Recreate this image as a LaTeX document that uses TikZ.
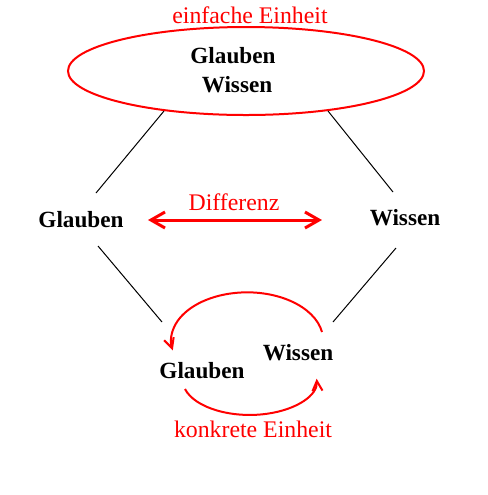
\documentclass[tikz,border=0pt]{standalone}
\usepackage{fontspec}
\setmainfont{Liberation Serif}
\usetikzlibrary{arrows.meta,shapes.geometric}
\tikzset{
  term/.style={font=\bfseries\fontsize{11.6}{14}\selectfont,inner sep=0pt,anchor=base},
  redtext/.style={font=\fontsize{11.9}{14}\selectfont,text=red,inner sep=0pt,anchor=base},
  redline/.style={draw=red,line width=1pt},
  barb/.style={-{Straight Barb[length=5pt,width=5pt]}}
}
\begin{document}
\begin{tikzpicture}[x=0.5pt,y=-0.5pt]
\useasboundingbox (0,0) rectangle (488,495);
% einfache Einheit
\node[redtext] (ee) at (250,23) {einfache Einheit};
\node[draw=red,line width=1pt,ellipse,minimum width=178pt,minimum height=44pt,inner sep=0pt] (ell) at (246,71) {};
\node[term] (g0) at (233,63) {Glauben};
\node[term] (w0) at (237,92) {Wissen};
% Differenz
\node[term] (g1) at (81,227) {Glauben};
\node[term] (w1) at (405,225) {Wissen};
\node[redtext] (dif) at (234,210) {Differenz};
\coordinate (dl) at (148,220);
\coordinate (dr) at (322,220);
\draw[line width=1.5pt,red,{Straight Barb[length=7pt,width=8pt]}-{Straight Barb[length=7pt,width=8pt]}] (dl) -- (dr);
% konkrete Einheit
\node[term] (g2) at (202,378) {Glauben};
\node[term] (w2) at (298,360) {Wissen};
\node[redtext] (ke) at (253,437) {konkrete Einheit};
% Verbindungen
\coordinate (a1) at (96,193);
\coordinate (a2) at (393,192);
\coordinate (b1) at (98,246);
\coordinate (b2) at (396,248);
\coordinate (c1) at (162,322);
\coordinate (c2) at (333,322);
\draw[black,line width=0.5pt] (ell.206) -- (a1);
\draw[black,line width=0.5pt] (ell.334) -- (a2);
\draw[black,line width=0.5pt] (b1) -- (c1);
\draw[black,line width=0.5pt] (b2) -- (c2);
% Kreislauf
\coordinate (k1) at (322,332);
\coordinate (k2) at (185,389);
\draw[redline,barb] (k1) arc[start angle=-10,end angle=-192,x radius=76,y radius=48];
\draw[redline,barb] (k2) arc[start angle=165,end angle=-2,x radius=67,y radius=35];
\end{tikzpicture}
\end{document}
